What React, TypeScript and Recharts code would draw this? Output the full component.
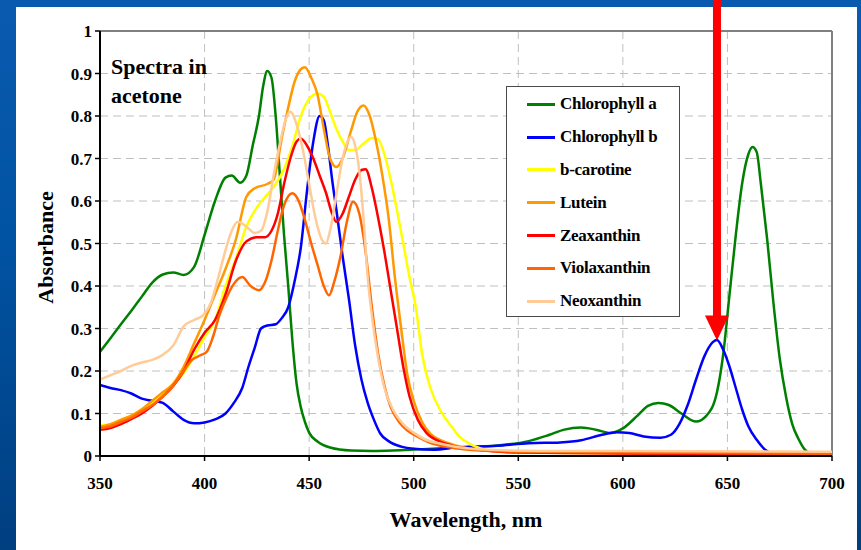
import React from 'react';
import { LineChart, Line, XAxis, YAxis, CartesianGrid, Legend, ReferenceLine } from 'recharts';

// ---- Data (wavelength in nm, absorbance) ----
const chlAWl = [350,355,360,365,370,375,380,385,390,395,400,405,410,413,417,420,423,426,428,430,432,434,436,438,440,442,444,446,448,450,454,460,470,480,490,500,520,540,555,565,572,580,587,594,600,607,612,617,622,628,635,640,645,648,651,654,657,660,662,664,666,669,672,675,678,681,684,687,690];
const chlA = [0.245,0.277,0.31,0.342,0.375,0.408,0.427,0.432,0.426,0.445,0.52,0.6,0.655,0.66,0.643,0.66,0.73,0.8,0.87,0.906,0.89,0.8,0.66,0.52,0.4,0.27,0.17,0.115,0.08,0.055,0.034,0.02,0.013,0.012,0.013,0.015,0.02,0.025,0.035,0.05,0.062,0.067,0.062,0.054,0.065,0.095,0.118,0.125,0.12,0.1,0.081,0.095,0.15,0.24,0.38,0.52,0.64,0.71,0.727,0.715,0.64,0.51,0.36,0.23,0.14,0.075,0.04,0.015,0.005];

const chlBWl = [350,355,360,365,370,375,380,385,390,395,400,405,410,414,418,421,424,427,430,434,437,440,443,446,449,452,455,457,459,461,463,466,469,472,475,478,481,484,488,494,500,510,520,540,555,570,580,590,597,603,610,618,623,627,631,635,639,643,645,648,651,654,657,660,664,668,672,676];
const chlB = [0.167,0.16,0.155,0.147,0.135,0.13,0.125,0.105,0.085,0.077,0.079,0.086,0.1,0.125,0.16,0.21,0.255,0.3,0.307,0.31,0.325,0.35,0.41,0.49,0.625,0.74,0.8,0.79,0.73,0.65,0.58,0.47,0.37,0.26,0.18,0.125,0.085,0.053,0.035,0.022,0.017,0.015,0.02,0.024,0.03,0.032,0.037,0.05,0.056,0.054,0.046,0.043,0.05,0.075,0.12,0.18,0.235,0.268,0.273,0.25,0.21,0.16,0.11,0.07,0.038,0.015,0.005,0.002];

const caroWl = [350,355,360,365,370,375,380,385,390,395,400,405,410,415,420,425,430,434,438,442,446,450,454,457,460,463,466,469,472,476,480,483,486,489,492,495,498,501,504,508,513,518,522,527,532,540,560,600,700];
const caro = [0.072,0.075,0.085,0.095,0.11,0.125,0.145,0.17,0.195,0.235,0.28,0.32,0.4,0.465,0.54,0.585,0.615,0.64,0.675,0.73,0.8,0.84,0.853,0.845,0.81,0.77,0.74,0.72,0.72,0.735,0.748,0.745,0.71,0.65,0.578,0.5,0.42,0.35,0.24,0.16,0.105,0.07,0.045,0.028,0.018,0.012,0.008,0.006,0.004];

const luteWl = [350,355,360,365,370,375,380,385,390,395,400,405,410,415,420,424,430,433,437,440,443,446,448,451,454,457,460,463,466,470,473,476,479,482,485,488,491,494,497,500,504,508,514,520,530,550,600,700];
const lute = [0.068,0.075,0.085,0.095,0.11,0.13,0.15,0.17,0.21,0.265,0.32,0.38,0.44,0.51,0.61,0.63,0.64,0.65,0.75,0.82,0.88,0.91,0.915,0.89,0.85,0.77,0.7,0.68,0.7,0.765,0.81,0.825,0.8,0.74,0.66,0.56,0.42,0.3,0.19,0.13,0.08,0.052,0.035,0.025,0.015,0.01,0.008,0.005];

const zeaWl = [350,355,360,365,370,375,380,385,390,395,400,405,410,415,420,425,429,432,435,438,441,444,446,449,452,455,458,461,463,466,469,472,475,477,480,483,486,489,492,495,498,502,506,512,518,530,550,600,700];
const zea = [0.062,0.066,0.075,0.087,0.1,0.118,0.14,0.165,0.2,0.25,0.29,0.32,0.38,0.46,0.505,0.515,0.515,0.53,0.57,0.64,0.7,0.74,0.747,0.73,0.7,0.66,0.62,0.57,0.551,0.57,0.61,0.65,0.673,0.675,0.63,0.56,0.48,0.39,0.3,0.21,0.14,0.085,0.055,0.035,0.025,0.015,0.008,0.006,0.004];

const violaWl = [350,355,360,365,370,375,380,385,390,394,398,401,404,407,410,414,418,422,426,429,432,435,438,442,445,448,451,454,457,459.5,462,465,468,471,474,477,480,483,486,489,493,497,502,507,515,525,550,600,700];
const viola = [0.065,0.07,0.08,0.09,0.105,0.12,0.14,0.165,0.2,0.226,0.237,0.245,0.28,0.33,0.367,0.405,0.421,0.4,0.39,0.41,0.46,0.53,0.59,0.618,0.6,0.555,0.5,0.45,0.4,0.378,0.41,0.47,0.55,0.598,0.57,0.48,0.35,0.24,0.165,0.115,0.08,0.06,0.045,0.033,0.022,0.015,0.01,0.008,0.005];

const neoWl = [350,355,360,365,370,375,380,385,390,395,399,403,406,410,413,416,420,424,427,430,433,436,439,441,444,447,450,453,456,458,460,463,466,468,470,472,474,476,478,480,483,486,490,495,500,505,512,520,535,560,600,700];
const neo = [0.18,0.19,0.2,0.212,0.22,0.226,0.238,0.26,0.305,0.32,0.33,0.36,0.41,0.484,0.53,0.551,0.54,0.525,0.53,0.575,0.66,0.735,0.795,0.81,0.78,0.72,0.64,0.56,0.51,0.5,0.53,0.615,0.7,0.735,0.751,0.73,0.67,0.56,0.42,0.33,0.23,0.16,0.11,0.075,0.055,0.04,0.03,0.022,0.015,0.012,0.012,0.01];

const seriesNames = ['Chlorophyll a','Chlorophyll b','b-carotine','Lutein','Zeaxanthin','Violaxanthin','Neoxanthin'];
const seriesColors = ['#008000','#0000FF','#FFFF00','#FF9900','#FF0000','#FF6600','#FFCC99'];
const seriesWl = [chlAWl, chlBWl, caroWl, luteWl, zeaWl, violaWl, neoWl];
const seriesVals = [chlA, chlB, caro, lute, zea, viola, neo];

const xTicks = [350,400,450,500,550,600,650,700];
const yTicks = [0,0.1,0.2,0.3,0.4,0.5,0.6,0.7,0.8,0.9,1];

const arrowWl = 645;
const arrowTipAbs = 0.272;

const FONT = "'Liberation Serif', 'Times New Roman', serif";

const series = seriesNames.map((name, i) => ({
  name,
  color: seriesColors[i],
  data: seriesWl[i].map((nm, j) => ({ nm, v: seriesVals[i][j] })),
}));

const ArrowShape = (props: any) => {
  const { x1, y1, y2 } = props;
  const headH = 25;
  const headW = 12;
  const shaftW = 4;
  const d = `M${x1 - shaftW},${y1} L${x1 + shaftW},${y1} L${x1 + shaftW},${y2 - headH} L${x1 + headW},${y2 - headH} L${x1},${y2} L${x1 - headW},${y2 - headH} L${x1 - shaftW},${y2 - headH} Z`;
  return <path d={d} fill="#FF0000" stroke="none" />;
};

const LegendBox = () => {
  return (
    <div style={{
      width: 174, height: 231, boxSizing: 'border-box', border: '1.5px solid #4a4a4a',
      background: '#fff', paddingTop: 1,
    }}>
      {series.map((it) => (
        <div key={it.name} style={{ height: 32.8, display: 'flex', alignItems: 'center' }}>
          <div style={{ marginLeft: 20, width: 28, height: 3, background: it.color }} />
          <span style={{ marginLeft: 5, fontFamily: FONT, fontWeight: 'bold', fontSize: 17, color: '#000', letterSpacing: -0.3 }}>{it.name}</span>
        </div>
      ))}
    </div>
  );
};

export default function App() {
  return (
    <div style={{ position: 'absolute', left: 0, top: 0, width: 861, height: 550, overflow: 'hidden',
      background: 'linear-gradient(180deg, #0a5bb0 0%, #0052a2 45%, #003f80 100%)' }}>
      <div style={{ position: 'absolute', left: 16, top: 7, width: 841, height: 543, background: '#fff' }} />
      <div style={{ position: 'absolute', left: 0, top: 0 }}>
        <LineChart width={861} height={550} margin={{ top: 31, right: 29, bottom: 64, left: 40 }}>
          <CartesianGrid stroke="#c0c0c0" strokeDasharray="8 5" strokeWidth={1} />
          <XAxis
            dataKey="nm" type="number" domain={[350, 700]} ticks={xTicks} allowDataOverflow
            height={30} tickSize={5} tickMargin={16}
            axisLine={{ stroke: '#000', strokeWidth: 2 }} tickLine={{ stroke: '#000', strokeWidth: 1.5 }}
            tick={{ fill: '#000', fontSize: 17, fontWeight: 'bold', fontFamily: FONT }}
            label={{ content: (p: any) => {
              const vb = p.viewBox || { x: 100, width: 732, y: 456 };
              return <text x={vb.x + vb.width / 2} y={527} textAnchor="middle" style={{ fontFamily: FONT }} fontWeight="bold" fontSize={22} fill="#000">Wavelength, nm</text>;
            } }}
          />
          <YAxis
            type="number" domain={[0, 1]} ticks={yTicks} allowDataOverflow
            width={60} tickSize={5} tickMargin={3}
            axisLine={{ stroke: '#000', strokeWidth: 2 }} tickLine={{ stroke: '#000', strokeWidth: 1.5 }}
            tick={{ fill: '#000', fontSize: 17, fontWeight: 'bold', fontFamily: FONT }}
            tickFormatter={(v: number) => String(v)}
            label={{ content: (p: any) => {
              const vb = p.viewBox || { y: 31, height: 425 };
              const cy = vb.y + vb.height / 2 + 4;
              return <text transform={`translate(53, ${cy}) rotate(-90)`} textAnchor="middle" style={{ fontFamily: FONT }} fontWeight="bold" fontSize={22} fill="#000">Absorbance</text>;
            } }}
          />
          <ReferenceLine y={1} stroke="#808080" strokeWidth={2} />
          <ReferenceLine x={700} stroke="#808080" strokeWidth={2} />
          {series.map(s => (
            <Line key={s.name} name={s.name} data={s.data} dataKey="v" type="monotone"
              stroke={s.color} strokeWidth={2.5} dot={false} activeDot={false}
              isAnimationActive={false} legendType="line" />
          ))}
          <ReferenceLine segment={[{ x: arrowWl, y: 1.075 }, { x: arrowWl, y: arrowTipAbs }]}
            ifOverflow="visible" shape={ArrowShape} />
          <Legend content={LegendBox as any} layout="horizontal" verticalAlign="middle" align="center"
            wrapperStyle={{ position: 'absolute', left: 506, top: 86, width: 174, height: 231 }} />
        </LineChart>
      </div>
      <svg style={{ position: 'absolute', left: 0, top: 0, pointerEvents: 'none' }} width={861} height={550}>
        <text x={111} y={74} style={{ fontFamily: FONT }} fontWeight="bold" fontSize={22} fill="#000">Spectra in</text>
        <text x={111} y={103} style={{ fontFamily: FONT }} fontWeight="bold" fontSize={22} fill="#000">acetone</text>
      </svg>
    </div>
  );
}
